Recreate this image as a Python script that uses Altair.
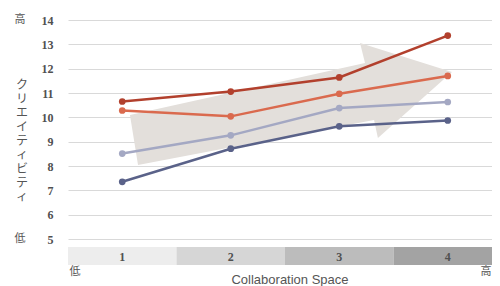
import altair as alt
import pandas as pd

# ---- data ----
categories = ["1", "2", "3", "4"]
series_names = ["S1", "S2", "S3", "S4"]
s1_values = [10.65, 11.06, 11.64, 13.36]   # dark red
s2_values = [10.28, 10.04, 10.97, 11.70]   # orange red
s3_values = [8.51, 9.26, 10.38, 10.63]     # light blue-grey
s4_values = [7.35, 8.71, 9.63, 9.87]       # navy
series_colors = ["#b2402d", "#da6a4e", "#a4a8c3", "#5a6289"]
band_colors = ["#ededed", "#d6d6d6", "#bcbcbc", "#a3a3a3"]
y_ticks = [5, 6, 7, 8, 9, 10, 11, 12, 13, 14]
y_title = "クリエイティビティ"
x_title = "Collaboration Space"
low_label = "低"
high_label = "高"

# arrow decoration (position in data units, shape in unit path)
arrow_x = [2.555]
arrow_y = [10.55]
arrow_path = ("M -1 0.068 L 0.46 -0.255 L 0.429 -0.379 L 1 -0.199 "
              "L 0.54 0.211 L 0.516 0.099 L -0.95 0.379 Z")

rows = []
for name, vals in zip(series_names, [s1_values, s2_values, s3_values, s4_values]):
    for c, v in zip(categories, vals):
        rows.append({"cat": c, "series": name, "value": v})
df = pd.DataFrame(rows)
cat_df = pd.DataFrame({"cat": categories})
arrow_df = pd.DataFrame({"ax": arrow_x, "ay": arrow_y})

W, H = 424, 219
XR = [0, 434]

xband = alt.X("cat:N", scale=alt.Scale(type="band", domain=categories, range=XR,
                                       paddingInner=0, paddingOuter=0),
              axis=alt.Axis(labels=False, ticks=False, domain=False, grid=False, title=None))
yscale = alt.Scale(domain=[5, 14], nice=False, zero=False)
yaxis = alt.Axis(values=y_ticks, grid=True, gridColor="#d9d9d9", gridWidth=1,
                 ticks=False, domain=False, labelFont="Liberation Serif",
                 labelFontSize=12, labelFontWeight="bold", labelColor="#505050",
                 labelPadding=15, title=None)

def Y(field):
    return alt.Y(field, scale=yscale, axis=yaxis)

color = alt.Color("series:N", scale=alt.Scale(domain=series_names, range=series_colors),
                  legend=None)

base = alt.Chart(df)

arrow = alt.Chart(arrow_df).mark_point(
    shape=arrow_path, size=322 * 322, filled=True, color="#e3dfdb", opacity=1, strokeWidth=0
).encode(
    x=alt.X("ax:Q", scale=alt.Scale(domain=[0.5, 4.5], range=XR, nice=False, zero=False), axis=None),
    y=Y("ay:Q"),
)

bands = alt.Chart(cat_df).mark_rect().encode(
    x=xband,
    y=alt.value(227), y2=alt.value(245),
    fill=alt.Fill("cat:N", scale=alt.Scale(domain=categories, range=band_colors), legend=None),
)
band_labels = alt.Chart(cat_df).mark_text(
    font="Liberation Serif", fontSize=12, fontWeight="bold", color="#505050", baseline="middle"
).encode(x=xband, y=alt.value(236.5), text="cat:N")

lines = base.mark_line(strokeWidth=2.5).encode(
    x=xband, y=Y("value:Q"), color=color, detail="series:N")
points = base.mark_circle(size=45, opacity=1).encode(
    x=xband, y=Y("value:Q"), color=color)

side_df = pd.DataFrame({"v": [14, 5], "t": [high_label, low_label]})
side = alt.Chart(side_df).mark_text(
    font="Noto Sans CJK JP", fontSize=11, color="#555555", baseline="middle"
).encode(x=alt.value(-48), y=Y("v:Q"), text="t:N")

ytitle = alt.Chart(cat_df.head(1)).mark_text(
    font="Noto Sans CJK JP", fontSize=12, color="#555555", baseline="top", lineHeight=14
).encode(x=alt.value(-46), y=alt.value(60), text=alt.value(list(y_title)))

bottom_df = pd.DataFrame({"t": [low_label, high_label], "px": [7, 418]})
bottom = alt.Chart(bottom_df).mark_text(
    font="Noto Sans CJK JP", fontSize=11, color="#555555", baseline="middle"
).encode(x=alt.X("px:Q", scale=None), y=alt.value(252), text="t:N")

xtitle = alt.Chart(cat_df.head(1)).mark_text(
    font="Liberation Sans", fontSize=13, color="#555555", baseline="top"
).encode(x=alt.value(222), y=alt.value(254), text=alt.value(x_title))

chart = alt.layer(
    arrow, bands, band_labels, lines, points, side, ytitle, bottom, xtitle
).resolve_scale(x="independent", color="independent", fill="independent").properties(
    width=W, height=H,
    autosize=alt.AutoSizeParams(type="none"),
    padding={"left": 60, "top": 12, "right": 0, "bottom": 47},
).configure_view(stroke=None)

chart.save("out.html", embed_options={"renderer": "svg", "actions": False})
